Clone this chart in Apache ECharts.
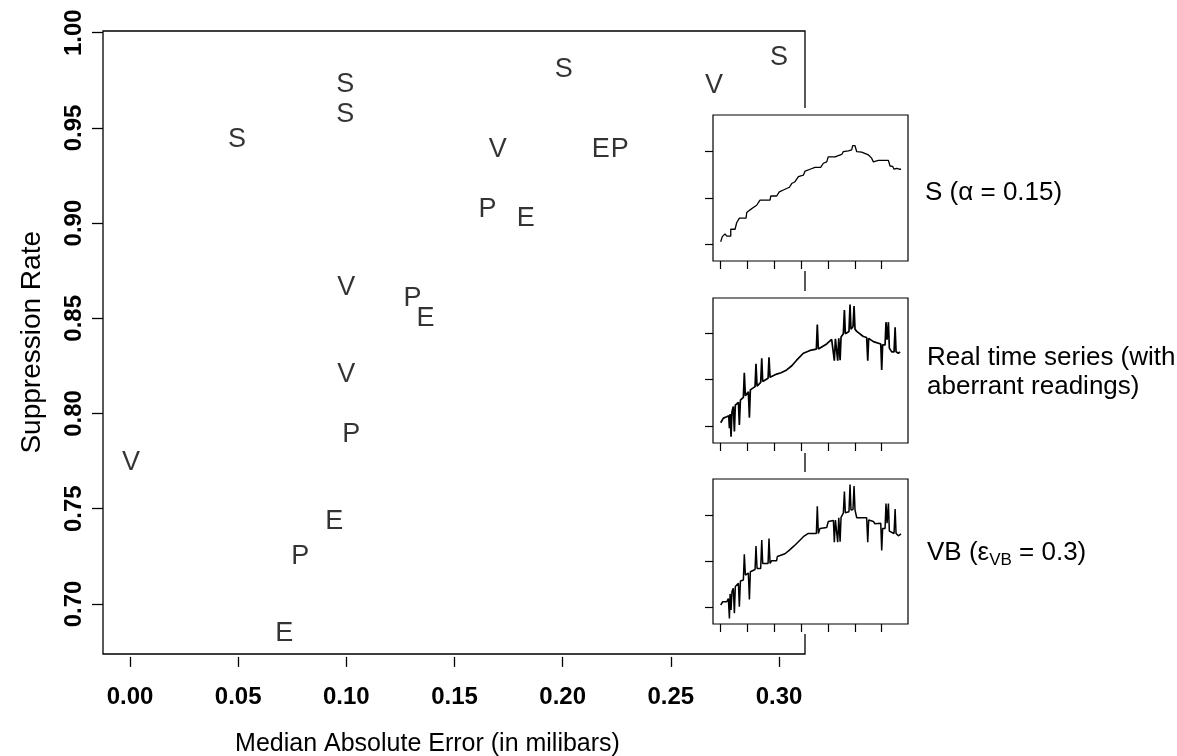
<!DOCTYPE html>
<html>
<head>
<meta charset="utf-8">
<script src="https://cdn.jsdelivr.net/npm/echarts@6/dist/echarts.min.js"></script>
<style>html,body{margin:0;padding:0;background:#fff;}#c{width:1177px;height:756px;}</style>
</head>
<body>
<div id="c"></div>
<script>
// ---- main scatter data: [median absolute error, suppression rate] ----
const xTicks = [0.00, 0.05, 0.10, 0.15, 0.20, 0.25, 0.30];
const yTicks = [0.70, 0.75, 0.80, 0.85, 0.90, 0.95, 1.00];
const pointsS = [[0.0495, 0.945], [0.0995, 0.9737], [0.0995, 0.958], [0.2005, 0.9816], [0.300, 0.9879]];
const pointsV = [[0.0005, 0.7752], [0.100, 0.867], [0.100, 0.8214], [0.170, 0.9396], [0.2699, 0.9732]];
const pointsP = [[0.1023, 0.790], [0.0787, 0.7258], [0.1306, 0.8613], [0.1653, 0.908], [0.2264, 0.9396]];
const pointsE = [[0.0713, 0.6854], [0.0944, 0.7442], [0.1366, 0.8508], [0.1829, 0.9034], [0.2176, 0.9396]];

// ---- inset time series: [time index, level] ----
const insetXTicks = [0, 20, 40, 60, 80, 100, 120];
const insetYTicks = [0, 1, 2];
const seriesSmooth = [[0,0.05],[1.2,0.16],[3.2,0.22],[4.5,0.17],[7.5,0.17],[7.5,0.32],[10.7,0.32],[11.9,0.46],[13.9,0.56],[18.9,0.56],[19.4,0.68],[21.9,0.74],[24.3,0.79],[26.8,0.84],[29.3,0.95],[36.8,0.95],[37.3,1.04],[41.7,1.04],[43.7,1.13],[46.7,1.17],[51.2,1.23],[52.9,1.31],[55.4,1.35],[57.9,1.46],[61.6,1.49],[62.9,1.58],[66.6,1.62],[70.3,1.66],[74.5,1.66],[76.5,1.75],[79.0,1.78],[80.2,1.89],[85.2,1.89],[86.5,1.93],[90.2,1.94],[91.4,2.0],[95.2,2.02],[97.6,2.04],[98.4,2.13],[100.1,2.13],[101.4,2.0],[105.1,1.99],[106.3,1.95],[110.1,1.93],[112.5,1.86],[113.8,1.78],[115.0,1.82],[117.5,1.81],[125.0,1.81],[126.2,1.69],[128.2,1.68],[129.2,1.62],[131.2,1.64],[133.2,1.62],[134.4,1.62]];
const seriesReal = [[0,0.07],[2.0,0.17],[4.5,0.20],[6.0,0.22],[6.5,-0.05],[7.0,0.26],[7.7,-0.23],[8.4,0.31],[9.4,0.42],[10.2,-0.12],[10.9,0.45],[13.2,0.51],[13.9,0.02],[14.7,0.56],[16.9,0.62],[17.6,1.15],[18.4,0.65],[20.6,0.74],[21.4,0.18],[22.1,0.78],[25.6,0.85],[26.3,1.34],[27.1,0.86],[29.8,0.94],[30.6,1.46],[31.3,0.96],[35.3,1.03],[36.0,1.48],[36.8,1.05],[41.7,1.12],[45.0,1.15],[49.2,1.21],[53.0,1.30],[56.6,1.42],[61.6,1.57],[66.6,1.63],[71.3,1.66],[72.0,2.19],[72.8,1.66],[79.0,1.77],[82.7,1.87],[84.0,1.88],[84.7,1.41],[85.5,1.88],[86.5,1.88],[87.2,1.41],[88.0,1.89],[88.4,1.91],[89.0,1.42],[89.7,1.92],[91.4,1.99],[92.2,2.50],[92.9,1.99],[95.6,2.04],[96.4,2.62],[97.1,2.09],[98.6,2.14],[99.4,2.59],[100.1,2.09],[101.4,2.04],[106.3,1.93],[108.8,1.91],[109.6,1.41],[110.3,1.89],[113.8,1.82],[119.3,1.77],[120.0,1.21],[120.7,1.75],[122.5,1.75],[123.2,2.24],[124.0,1.86],[125.0,2.24],[125.7,1.68],[127.5,1.60],[129.2,1.60],[130.0,2.13],[130.7,1.60],[132.4,1.57],[133.7,1.60]];
const seriesVB = [[0,0.05],[1.5,0.12],[4.5,0.12],[5.7,0.19],[6.5,-0.24],[7.0,0.29],[7.7,-0.06],[8.4,0.34],[9.4,0.41],[10.2,-0.13],[10.9,0.45],[13.2,0.52],[13.9,0.01],[14.7,0.57],[16.9,0.59],[17.6,1.15],[18.4,0.70],[20.6,0.74],[21.4,0.17],[22.1,0.77],[25.6,0.82],[26.3,1.33],[27.1,0.84],[29.8,0.84],[30.6,1.46],[31.3,0.95],[35.3,0.95],[36.0,1.49],[36.8,0.95],[38.0,1.01],[41.7,1.01],[42.2,1.10],[47.9,1.16],[51.2,1.24],[54.7,1.33],[57.9,1.42],[61.6,1.53],[65.3,1.60],[71.3,1.60],[72.0,2.19],[72.8,1.60],[74.0,1.71],[79.0,1.73],[80.2,1.86],[84.0,1.88],[84.7,1.41],[85.5,1.89],[86.5,1.93],[87.2,1.41],[88.0,1.94],[89.0,1.42],[89.7,1.95],[91.4,2.04],[92.2,2.51],[92.9,2.05],[95.6,2.07],[96.4,2.66],[97.1,2.11],[98.6,2.12],[99.4,2.63],[100.1,2.11],[101.4,1.94],[108.8,1.94],[109.6,1.41],[110.3,1.89],[113.8,1.86],[115.0,1.81],[119.3,1.82],[120.0,1.23],[120.7,1.71],[122.5,1.71],[123.2,2.25],[124.0,1.82],[125.0,2.25],[125.7,1.65],[129.2,1.60],[130.0,2.13],[130.7,1.60],[132.4,1.55],[134.4,1.59]];

const tickFont = "'Liberation Sans', Arial, Helvetica, sans-serif";
const textFont = "'Liberation Sans', Arial, Helvetica, sans-serif";

const chart = echarts.init(document.getElementById('c'), null, {renderer: 'canvas'});

function hiddenAxis(gi, min, max) { return {type: 'value', gridIndex: gi, show: false, min: min, max: max, axisLine: {onZero: false}}; }

function letterSeries(name, data) {
  return {
    type: 'scatter', name: name, xAxisIndex: 1, yAxisIndex: 1, clip: false,
    data: data, symbolSize: 1, itemStyle: {color: 'rgba(0,0,0,0)'},
    silent: true, z: 2,
    label: {show: true, position: 'inside', formatter: name, color: '#000', offset: [0, 2],
            fontSize: 27, fontFamily: textFont, verticalAlign: 'middle', align: 'center'}
  };
}

// grid 0: main frame; grid 1: main data area (tick range)
const grids = [
  {left: 103, right: 372, top: 31, bottom: 102, show: true, borderColor: '#000', borderWidth: 1.3,
   backgroundColor: 'rgba(0,0,0,0)', z: 1, outerBoundsMode: 'none', containLabel: false},
  {left: 130, right: 398, top: 32.7, bottom: 152.1, show: false, z: 1, outerBoundsMode: 'none', containLabel: false}
];
const xAxes = [hiddenAxis(0, 0, 1), {
  type: 'value', gridIndex: 1, min: xTicks[0], max: xTicks[xTicks.length - 1], interval: 0.05, offset: 53,
  axisLine: {show: false, onZero: false}, splitLine: {show: false},
  axisTick: {show: true, length: 10, lineStyle: {color: '#000', width: 1.3}},
  axisLabel: {show: true, margin: 28, color: '#000', fontSize: 24, fontWeight: 'bold', fontFamily: tickFont,
              formatter: v => v.toFixed(2), showMinLabel: true, showMaxLabel: true},
  name: 'Median Absolute Error (in milibars)', nameLocation: 'middle', nameGap: 75,
  nameTextStyle: {color: '#000', fontSize: 25, fontFamily: textFont, padding: [0, 54, 0, 0]}
}];
const yAxes = [hiddenAxis(0, 0, 1), {
  type: 'value', gridIndex: 1, min: yTicks[0], max: yTicks[yTicks.length - 1], interval: 0.05, offset: 27,
  axisLine: {show: false, onZero: false}, splitLine: {show: false},
  axisTick: {show: true, length: 11, lineStyle: {color: '#000', width: 1.3}},
  axisLabel: {show: true, margin: 29, rotate: 90, color: '#000', fontSize: 24, fontWeight: 'bold', fontFamily: tickFont,
              formatter: v => v.toFixed(2), verticalAlign: 'middle', align: 'center', showMinLabel: true, showMaxLabel: true},
  name: 'Suppression Rate', nameLocation: 'middle', nameGap: 57, nameRotate: 90,
  nameTextStyle: {color: '#000', fontSize: 28, fontFamily: textFont, padding: [0, 48, 0, 0]}
}];
const series = [letterSeries('S', pointsS), letterSeries('V', pointsV), letterSeries('P', pointsP), letterSeries('E', pointsE)];
const masks = [];

// inset frames (pixel boxes) and tick-range areas
const insetLeft = 713, insetWidth = 195, areaLeft = 720.7, areaWidth = 161;
const insetFrames = [{top: 115, height: 146}, {top: 298, height: 145}, {top: 479, height: 145}];
const insetAreas = [{top: 151.7, height: 92.3}, {top: 333.3, height: 92.7}, {top: 515, height: 92.3}];
const insetData = [seriesSmooth, seriesReal, seriesVB];
const insetWidths = [1.3, 1.7, 1.5];

insetFrames.forEach((fr, i) => {
  const gBox = grids.length, gData = grids.length + 1;
  const ar = insetAreas[i];
  const xMax = insetXTicks[insetXTicks.length - 1], yMax = insetYTicks[insetYTicks.length - 1];
  const xPerPx = xMax / areaWidth, yPerPx = yMax / ar.height;
  // frame grid: axes span the whole frame so the series is not clipped at the last tick
  grids.push({left: insetLeft, width: insetWidth, top: fr.top, height: fr.height, show: true, borderColor: '#000', borderWidth: 1.2,
              backgroundColor: '#fff', z: 4, outerBoundsMode: 'none', containLabel: false});
  grids.push({left: areaLeft, width: areaWidth, top: ar.top, height: ar.height, show: false, z: 5, outerBoundsMode: 'none', containLabel: false});
  xAxes.push(hiddenAxis(gBox, -(areaLeft - insetLeft) * xPerPx, xMax + (insetLeft + insetWidth - areaLeft - areaWidth) * xPerPx));
  yAxes.push(hiddenAxis(gBox, -((fr.top + fr.height) - (ar.top + ar.height)) * yPerPx, yMax + (ar.top - fr.top) * yPerPx));
  xAxes.push({
    type: 'value', gridIndex: gData, min: insetXTicks[0], max: xMax, interval: 20,
    offset: (fr.top + fr.height) - (ar.top + ar.height),
    axisLine: {show: false, onZero: false}, splitLine: {show: false}, axisLabel: {show: false},
    axisTick: {show: true, length: 8, lineStyle: {color: '#000', width: 1.2}}, z: 5
  });
  yAxes.push({
    type: 'value', gridIndex: gData, min: insetYTicks[0], max: yMax, interval: 1, offset: areaLeft - insetLeft,
    axisLine: {show: false, onZero: false}, splitLine: {show: false}, axisLabel: {show: false},
    axisTick: {show: true, length: 8, lineStyle: {color: '#000', width: 1.2}}, z: 5
  });
  series.push({
    type: 'line', xAxisIndex: gBox, yAxisIndex: gBox, data: insetData[i],
    showSymbol: false, symbol: 'none', silent: true, z: 6,
    lineStyle: {color: '#000', width: insetWidths[i]}
  });
  masks.push({type: 'rect', z: 3, silent: true,
    shape: {x: 700, y: fr.top - 7, width: 215, height: fr.height + 17},
    style: {fill: '#fff'}});
});

const labelStyle = {font: "26px " + textFont, fill: '#000', verticalAlign: 'middle', align: 'left'};
const graphics = masks.concat([
  {type: 'text', z: 10, silent: true, x: 925, y: 193, style: Object.assign({text: 'S (α = 0.15)'}, labelStyle)},
  {type: 'text', z: 10, silent: true, x: 927, y: 358, style: Object.assign({text: 'Real time series (with'}, labelStyle)},
  {type: 'text', z: 10, silent: true, x: 927, y: 387, style: Object.assign({text: 'aberrant readings)'}, labelStyle)},
  {type: 'text', z: 10, silent: true, x: 927, y: 553, style: {
    text: '{a|VB (ε}{s|VB}{a| = 0.3)}', align: 'left', verticalAlign: 'middle',
    rich: {a: {fontSize: 26, fontFamily: textFont, fill: '#000', color: '#000'},
           s: {fontSize: 17, fontFamily: textFont, fill: '#000', color: '#000', padding: [14, 0, 0, 0]}}
  }}
]);

chart.setOption({
  animation: false,
  backgroundColor: '#fff',
  grid: grids,
  xAxis: xAxes,
  yAxis: yAxes,
  series: series,
  graphic: graphics
});
</script>
</body>
</html>
